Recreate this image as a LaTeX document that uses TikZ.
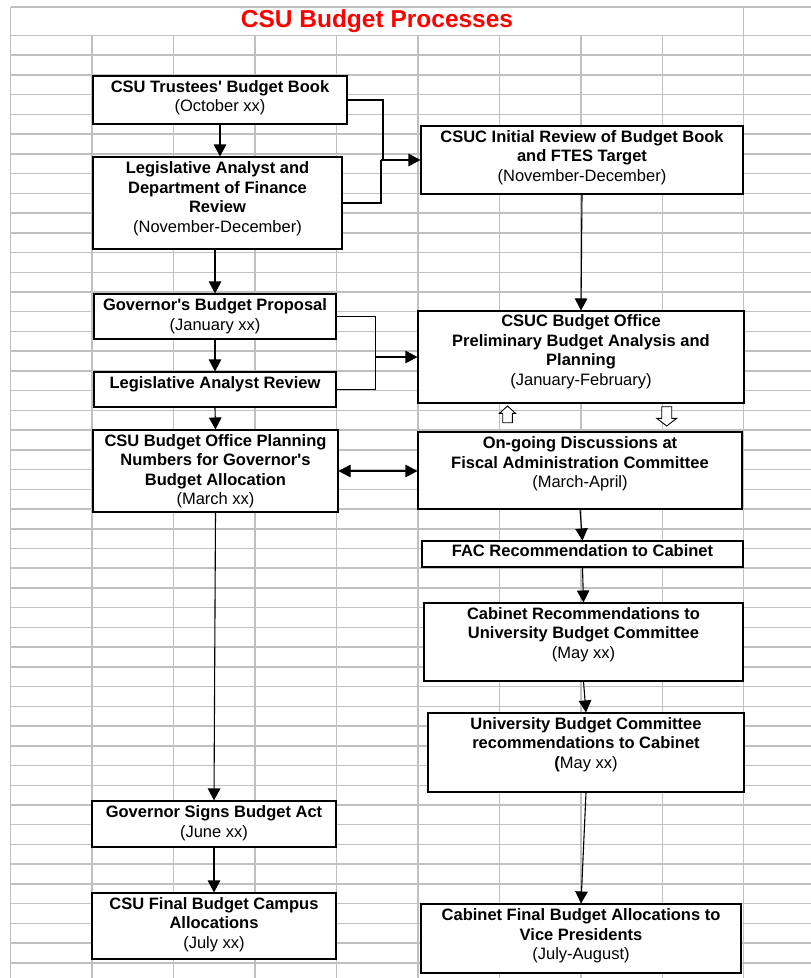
\documentclass[tikz,border=0pt]{standalone}
\usepackage{fontspec}
\setmainfont{Liberation Sans}
\usetikzlibrary{arrows.meta}
\definecolor{gridc}{RGB}{192,192,192}
\definecolor{titlered}{RGB}{255,0,0}
\begin{document}
\begin{tikzpicture}[x=1pt,y=-1pt,
  gridline/.style={draw=gridc, line width=1.5pt},
  box/.style={draw=black, line width=1.1pt, fill=white, inner sep=0pt},
  btext/.style={align=center, inner sep=0pt, font=\fontsize{16.5}{19.5}\selectfont\bfseries},
  arr/.style={draw=black, line width=1.1pt, -{Triangle[width=12.5pt,length=12pt]}},
  darr/.style={draw=black, line width=1.1pt, {Triangle[width=12.5pt,length=12pt]}-{Triangle[width=12.5pt,length=12pt]}},
  conn/.style={draw=black, line width=1.1pt},
  hollow/.style={draw=black, line width=0.9pt, fill=white, line join=miter}
]
\useasboundingbox (0,0) rectangle (811,978);
\fill[white] (0,0) rectangle (811,978);
% spreadsheet grid
\foreach \k in {1,...,8} \draw[gridline] ({10.5+81.5*\k},35.5) -- ({10.5+81.5*\k},978);
\draw[gridline] (10.5,7) -- (10.5,978);
\draw[gridline] (743.5,7) -- (743.5,978);
\draw[gridline] (10.5,7) -- (811,7);
\foreach \j in {0,...,47} \draw[gridline] (10.5,{35.5+19.73*\j}) -- (811,{35.5+19.73*\j});
% title
\node[inner sep=0pt, text=titlered, font=\fontsize{24.5}{28}\selectfont\bfseries] (title) at (377,21) {CSU Budget Processes};
% boxes
\node[box, minimum width=254pt, minimum height=48pt] (b1) at (220,100) {};
\node[box, minimum width=249pt, minimum height=92pt] (b2) at (217.5,203) {};
\node[box, minimum width=322pt, minimum height=68pt] (b3) at (582,160) {};
\node[box, minimum width=326pt, minimum height=92pt] (b4) at (581,357) {};
\node[box, minimum width=324pt, minimum height=77pt] (b5) at (580,470.5) {};
\node[box, minimum width=242pt, minimum height=45pt] (b6) at (215,316.5) {};
\node[box, minimum width=242pt, minimum height=35pt] (b7) at (215,389.5) {};
\node[box, minimum width=245pt, minimum height=82pt] (b8) at (215.5,471) {};
\node[box, minimum width=321pt, minimum height=26pt] (b9) at (582.5,554) {};
\node[box, minimum width=319pt, minimum height=78pt] (b10) at (583.5,642) {};
\node[box, minimum width=316pt, minimum height=79pt] (b11) at (586,752.5) {};
\node[box, minimum width=320pt, minimum height=69pt] (b12) at (581,938.5) {};
\node[box, minimum width=244pt, minimum height=46pt] (b13) at (214,824) {};
\node[box, minimum width=244pt, minimum height=66pt] (b14) at (214,926) {};
% texts
\node[btext] (t1) at (220,98.2) {\strut CSU Trustees\textquotesingle\ Budget Book\\\strut{\mdseries (October xx)}};
\node[btext] (t2) at (217.5,199) {\strut Legislative Analyst and\\\strut Department of Finance\\\strut Review\\\strut{\mdseries (November-December)}};
\node[btext] (t3) at (582,157.6) {\strut CSUC Initial Review of Budget Book\\\strut and FTES Target\\\strut{\mdseries (November-December)}};
\node[btext] (t4) at (581,352) {\strut CSUC Budget Office\\\strut Preliminary Budget Analysis and\\\strut Planning\\\strut{\mdseries (January-February)}};
\node[btext] (t5) at (580,464.3) {\strut On-going Discussions at\\\strut Fiscal Administration Committee\\\strut{\mdseries (March-April)}};
\node[btext] (t6) at (215,316.5) {\strut Governor\textquotesingle s Budget Proposal\\\strut{\mdseries (January xx)}};
\node[btext] (t7) at (215,384.8) {\strut Legislative Analyst Review};
\node[btext] (t8) at (215.5,471.5) {\strut CSU Budget Office Planning\\\strut Numbers for Governor\textquotesingle s\\\strut Budget Allocation\\\strut{\mdseries (March xx)}};
\node[btext] (t9) at (582.5,552.2) {\strut FAC Recommendation to Cabinet};
\node[btext] (t10) at (583.5,635) {\strut Cabinet Recommendations to\\\strut University Budget Committee\\\strut{\mdseries (May xx)}};
\node[btext] (t11) at (586,744.8) {\strut University Budget Committee\\\strut recommendations to Cabinet\\\strut ({\mdseries May xx)}};
\node[btext] (t12) at (581,936.2) {\strut Cabinet Final Budget Allocations to\\\strut Vice Presidents\\\strut{\mdseries (July-August)}};
\node[btext] (t13) at (214,823.5) {\strut Governor Signs Budget Act\\\strut{\mdseries (June xx)}};
\node[btext] (t14) at (214,924.8) {\strut CSU Final Budget Campus\\\strut Allocations\\\strut{\mdseries (July xx)}};
% elbow junctions
\coordinate (j1) at (383,160);
\coordinate (j2) at (381,160);
\coordinate (j3) at (375.7,357);
% left column connectors
\draw[arr] (b1.south) -- (b1.south |- b2.north);
\draw[arr] (b6.north |- b2.south) -- (b6.north);
\draw[arr] (b6.south) -- (b7.north);
\draw[arr] (b7.south) -- (b8.north);
\draw[arr] (b8.south) -- (b13.north);
\draw[arr] (b13.south) -- (b14.north);
% elbows to right column
\draw[conn] (b1.east) -- (j1 |- b1.east) -- (j1);
\draw[conn] (b2.east) -- (j2 |- b2.east) -- (j2);
\draw[arr] (j2) -- (b3.west);
\draw[conn] (b6.east) -- (j3 |- b6.east) -- (j3 |- b7.east) -- (b7.east);
\draw[arr] (j3) -- (b4.west);
% double arrow
\draw[darr] (b8.east) -- (b8.east -| b5.west);
% right column connectors
\draw[arr] (b3.south) -- (b4.north);
\draw[arr] (b5.south) -- (b9.north);
\draw[arr] (b9.south) -- (b10.north);
\draw[arr] (b10.south) -- (b11.north);
\draw[arr] (b11.south) -- (b12.north);
% hollow block arrows between b4 and b5
\draw[hollow] (507.5,406) -- (515.5,413.3) -- (512.3,413.3) -- (512.3,422.7) -- (502.7,422.7) -- (502.7,413.3) -- (499.5,413.3) -- cycle;
\draw[hollow] (661.7,406.7) -- (671.7,406.7) -- (671.7,418.3) -- (676.7,418.3) -- (666.7,426) -- (656.7,418.3) -- (661.7,418.3) -- cycle;
\end{tikzpicture}
\end{document}
